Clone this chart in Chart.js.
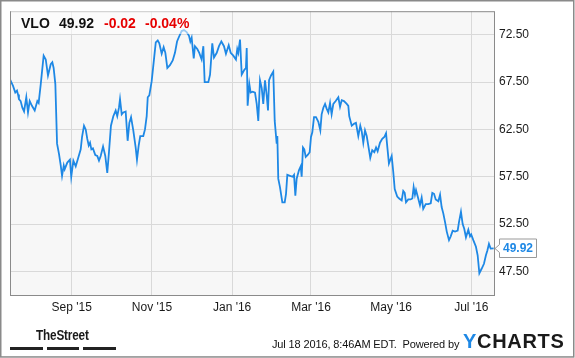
<!DOCTYPE html>
<html>
<head>
<meta charset="utf-8">
<script src="https://cdn.jsdelivr.net/npm/chart.js@4.4.1/dist/chart.umd.min.js"></script>
<style>
  html, body { margin: 0; padding: 0; background: #fff; }
  #wrap { position: relative; width: 575px; height: 358px; overflow: hidden; font-family: Arial, "Liberation Sans", sans-serif; }
  #c { position: absolute; left: 0; top: 0; }
  .hdrbox { position: absolute; left: 11px; top: 11px; width: 189px; height: 23px; background: rgba(255,255,255,0.55); }
  .h { position: absolute; top: 15px; font-size: 14px; line-height: 16px; font-weight: bold; white-space: nowrap; }
  .blk { color: #111; }
  .red { color: #e60000; }
  .foot { position: absolute; left: 272px; top: 337px; font-size: 11px; line-height: 14px; color: #111; white-space: nowrap; letter-spacing: -0.13px; }
  .ych { position: absolute; left: 463px; top: 331px; font-size: 20px; line-height: 20px; font-weight: bold; letter-spacing: 0.7px; color: #1a1a1a; white-space: nowrap; }
  .ych span { color: #1e88e5; }
  .ts { position: absolute; left: 36px; top: 327px; font-size: 14px; line-height: 16px; font-weight: bold; color: #1a1a1a; transform: scaleX(0.84); transform-origin: left top; white-space: nowrap; letter-spacing: -0.2px; }
  .bar { position: absolute; top: 347px; height: 3px; background: #222; }
</style>
</head>
<body>
<div id="wrap">
  <canvas id="c" width="575" height="358"></canvas>
  <div class="hdrbox"></div>
  <div class="h blk" style="left:21px">VLO</div>
  <div class="h blk" style="left:59px">49.92</div>
  <div class="h red" style="left:104px">-0.02</div>
  <div class="h red" style="left:145px">-0.04%</div>
  <div class="ts">TheStreet</div>
  <div class="bar" style="left:10px;width:33px"></div>
  <div class="bar" style="left:47px;width:32px"></div>
  <div class="bar" style="left:83px;width:33px"></div>
  <div class="foot">Jul 18 2016, 8:46AM EDT.&nbsp; Powered by</div>
  <div class="ych"><span>Y</span>CHARTS</div>
</div>
<script>
// Days since 2015-07-16
const days = [
  0,2.3,4.0,5.3,6.1,6.8,8.1,9.4,10.7,12.4,13.7,15.0,16.7,18.8,20.8,21.8,23.4,25.6,27.2,28.9,
  31.0,32.2,33.2,34.5,35.8,37.3,38.6,39.6,40.9,41.6,43.6,45.6,46.6,48.2,50.0,51.7,53.8,54.8,56.3,57.6,
  58.8,59.9,60.9,61.9,63.1,64.9,66.4,67.7,69.0,70.8,72.5,74.0,
  75.3,76.8,78.6,80.4,81.6,82.9,83.7,85.0,86.2,88.0,89.5,90.8,92.1,93.8,95.6,96.6,97.9,99.1,101.4,102.7,
  104.0,104.8,106.0,107.8,109.0,110.9,112.4,113.6,115.4,116.9,118.2,119.7,121.7,123.8,125.5,127.1,128.6,130.6,132.4,134.4,
  136.2,137.2,138.2,139.8,140.7,142.5,144.0,145.8,147.1,148.1,
  150.9,152.2,153.9,155.2,157.3,159.0,160.8,162.8,164.3,166.4,167.9,169.9,171.9,172.9,173.7,175.0,176.3,178.3,179.5,180.1,
  180.8,182.1,183.1,184.7,186.4,187.7,188.9,190.2,191.5,192.7,194.0,195.3,196.3,197.1,198.6,200.3,201.4,202.4,202.9,203.4,
  204.1,205.4,207.2,209.0,210.0,211.0,213.0,215.1,216.1,217.1,218.1,219.9,221.2,221.9,222.9,223.9,225.0,226.5,228.0,229.0,
  230.0,231.3,232.8,234.6,236.1,237.1,238.4,239.7,240.9,242.2,243.5,244.7,246.0,247.8,249.8,251.1,252.4,254.1,256.2,257.4,
  258.1,260.0,261.7,263.2,265.0,266.5,267.6,268.8,270.1,271.4,272.6,274.1,275.6,277.2,278.5,279.7,281.5,283.2,284.8,286.1,
  287.1,288.3,290.4,291.6,292.7,294.6,296.1,298.0,299.2,300.3,301.3,303.0,304.8,306.1,307.1,308.1,308.9,310.4,311.9,313.2,
  314.4,316.3,318.2,320.1,321.3,322.6,323.9,325.9,327.2,328.4,329.7,331.0,332.3,334.0,335.3,336.8,338.6,340.6,341.6,343.1,
  344.4,345.6,346.9,348.7,350.0,350.9,352.5,354.5,355.8,357.1,358.9,360.6,362.1,363.2,364.4,365.7,368.0
];
const prices = [
  67.8,67.1,66.4,66.6,66.2,65.7,65.5,64.8,64.4,65.9,64.3,65.5,65.0,64.5,65.5,65.3,67.3,70.3,69.9,68.2,
  69.4,69.6,69.0,67.3,61.0,59.9,58.7,57.6,58.7,58.3,59.0,59.3,57.5,59.2,58.6,59.4,60.4,61.7,62.9,62.5,
  61.5,60.8,61.1,60.4,60.5,59.8,59.7,59.2,59.7,60.7,59.7,57.9,
  60.1,62.9,63.9,64.5,63.9,64.8,65.7,64.1,64.3,64.4,61.3,63.2,63.8,62.4,60.6,59.3,60.8,61.8,61.8,62.5,
  63.9,65.9,66.1,67.6,69.2,71.7,71.9,71.6,70.5,71.2,70.6,69.0,69.3,69.8,70.6,71.8,72.3,72.9,73.0,72.8,
  72.4,71.8,72.2,70.0,71.3,71.0,70.6,69.9,71.3,67.5,
  67.5,68.3,71.6,70.1,70.6,71.3,71.8,71.3,70.5,71.4,70.6,70.3,69.9,71.0,70.6,72.0,68.3,68.8,69.0,71.1,
  65.0,67.3,66.4,66.5,66.4,65.2,63.4,67.7,66.9,65.2,67.7,66.1,64.5,67.7,68.2,68.6,63.4,61.8,61.0,61.8,
  57.3,56.4,54.8,54.8,55.7,57.7,57.6,57.5,57.7,55.5,57.3,58.2,58.6,57.5,60.6,60.4,59.6,59.8,60.1,61.7,
  62.2,63.8,63.8,63.3,62.4,64.1,64.8,65.2,64.7,64.3,65.3,64.1,65.2,65.5,65.9,64.9,65.6,65.5,65.2,65.0,
  63.9,62.9,63.1,63.2,61.8,62.9,62.3,61.1,62.4,61.8,60.8,59.5,60.3,60.1,60.6,60.2,61.1,61.5,61.7,62.1,
  60.6,58.9,59.7,58.0,56.2,55.4,55.2,55.0,56.0,55.8,54.8,55.1,55.1,55.2,56.4,55.6,56.1,55.3,54.5,55.3,
  54.1,54.6,54.6,54.7,55.8,55.7,55.1,54.9,55.6,54.3,53.6,52.7,51.7,50.8,51.2,51.8,51.7,51.8,52.7,53.8,
  52.5,52.0,51.1,51.9,51.2,51.4,50.8,50.1,49.2,47.3,47.8,48.3,49.2,49.7,50.4,49.9,49.92
];
const xTickDays = [47, 108, 169, 229, 290, 351];
const xTickLabels = ["Sep '15", "Nov '15", "Jan '16", "Mar '16", "May '16", "Jul '16"];
const yTicks = [47.5, 52.5, 57.5, 62.5, 67.5, 72.5];
const lastLabel = "49.92";

const FONT = 'Arial, "Liberation Sans", sans-serif';
const LINE = '#1e88e5';

const decor = {
  id: 'decor',
  beforeDraw(chart) {
    const { ctx, chartArea: a } = chart;
    ctx.save();
    ctx.fillStyle = '#fff';
    ctx.fillRect(0, 0, chart.width, chart.height);
    ctx.fillStyle = '#f7f7f7';
    ctx.fillRect(a.left, a.top, a.right - a.left, a.bottom - a.top);
    ctx.restore();
  },
  afterDraw(chart) {
    const { ctx, chartArea: a } = chart;
    ctx.save();
    ctx.strokeStyle = '#8a8a8a';
    ctx.lineWidth = 1;
    ctx.strokeRect(a.left + 0.5, a.top + 0.5, a.right - a.left - 1, a.bottom - a.top);
    // last value tag
    const ys = chart.scales.y;
    const y = Math.round(ys.getPixelForValue(prices[prices.length - 1])) + 0.5;
    const L = a.right + 4.5, R = L + 37, T = y - 9.5, B = y + 9;
    ctx.beginPath();
    ctx.moveTo(L, T); ctx.lineTo(R, T); ctx.lineTo(R, B); ctx.lineTo(L, B);
    ctx.lineTo(L, y + 4); ctx.lineTo(a.right, y); ctx.lineTo(L, y - 4); ctx.closePath();
    ctx.fillStyle = '#fff'; ctx.fill();
    ctx.strokeStyle = '#999'; ctx.stroke();
    ctx.fillStyle = LINE;
    ctx.font = 'bold 12px ' + FONT;
    ctx.textAlign = 'center'; ctx.textBaseline = 'middle';
    ctx.fillText(lastLabel, (L + R) / 2, y + 0.5);
    // outer frame
    ctx.strokeStyle = '#8a8a8a';
    ctx.lineWidth = 1.5;
    ctx.strokeRect(0.75, 0.75, chart.width - 2, chart.height - 1.8);
    ctx.restore();
  }
};

new Chart(document.getElementById('c'), {
  type: 'line',
  data: {
    datasets: [{
      data: days.map((d, i) => ({ x: d, y: prices[i] })),
      borderColor: LINE,
      borderWidth: 1.8,
      pointRadius: 0,
      tension: 0,
      fill: false
    }]
  },
  options: {
    responsive: false,
    animation: false,
    events: [],
    layout: { padding: { left: 10, top: 10, right: 0, bottom: 0 } },
    plugins: { legend: { display: false }, tooltip: { enabled: false }, title: { display: false } },
    scales: {
      x: {
        type: 'linear', min: 0, max: 369,
        afterBuildTicks: s => { s.ticks = xTickDays.map(v => ({ value: v })); },
        afterFit: s => { s.height = 63; },
        ticks: {
          autoSkip: false, maxRotation: 0, padding: 5,
          color: '#1a1a1a', font: { family: FONT, size: 12 },
          callback: (v, i) => xTickLabels[i]
        },
        grid: { color: '#d9d9d9', lineWidth: 1, drawTicks: false },
        border: { display: false }
      },
      y: {
        position: 'right', min: 45, max: 75,
        afterBuildTicks: s => { s.ticks = yTicks.map(v => ({ value: v })); },
        afterFit: s => { s.width = 80; },
        ticks: {
          padding: 4, color: '#1a1a1a', font: { family: FONT, size: 12 },
          callback: v => Number(v).toFixed(2)
        },
        grid: { color: '#d9d9d9', lineWidth: 1, drawTicks: false },
        border: { display: false }
      }
    }
  },
  plugins: [decor]
});
</script>
</body>
</html>
